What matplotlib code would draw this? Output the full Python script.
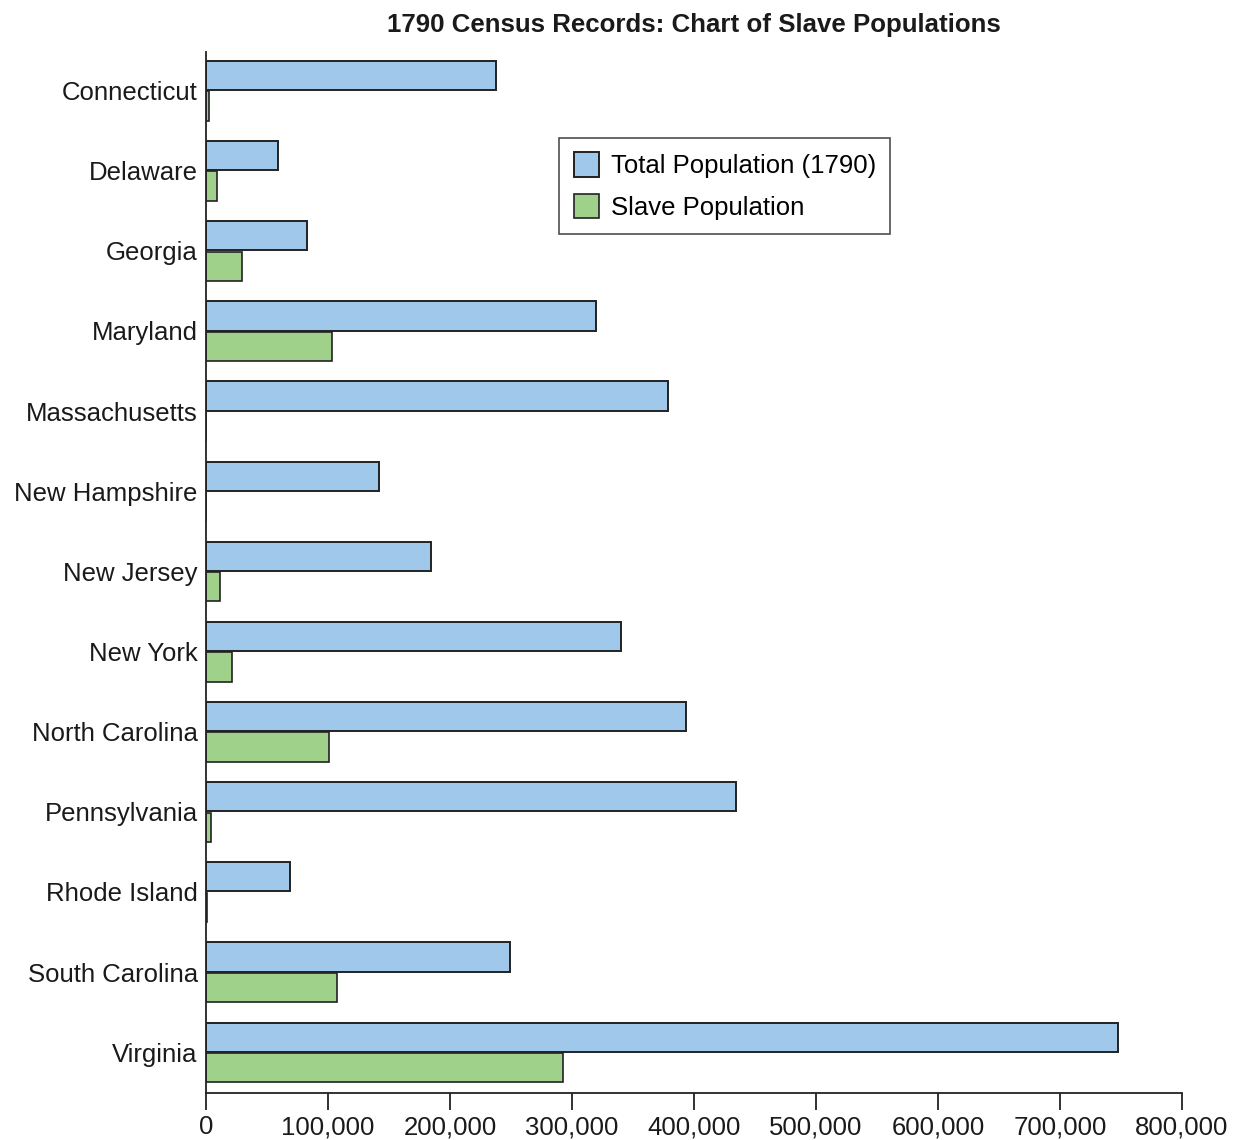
import matplotlib.pyplot as plt
import numpy as np
from matplotlib.ticker import FuncFormatter

plt.rcParams['font.family'] = ['Liberation Sans', 'DejaVu Sans']

states = ['Connecticut', 'Delaware', 'Georgia', 'Maryland', 'Massachusetts',
          'New Hampshire', 'New Jersey', 'New York', 'North Carolina',
          'Pennsylvania', 'Rhode Island', 'South Carolina', 'Virginia']
total_pop = [237946, 59094, 82548, 319728, 378787, 141885, 184139,
             340120, 393751, 434373, 68825, 249073, 747610]
slave_pop = [2764, 8887, 29264, 103036, 0, 158, 11423,
             21324, 100783, 3737, 948, 107094, 292627]

fig = plt.figure(figsize=(12.41, 11.40), dpi=100)
ax = fig.add_axes([0.166, 0.0412, 0.7865, 0.9128])

y = np.arange(len(states))
h = 0.365
ax.barh(y - h/2 - 0.005, total_pop, height=h, color='#a0c8ea', edgecolor='#222222',
        linewidth=1.4, label='Total Population (1790)')
ax.barh(y + h/2 + 0.01, slave_pop, height=h, color='#9fd18a', edgecolor='#222222',
        linewidth=1.2, label='Slave Population')

ax.set_ylim(12.51, -0.475)
ax.set_xlim(0, 800000)
ax.set_yticks(y)
ax.set_yticklabels(states, fontsize=18.5)
ax.tick_params(axis='y', length=0, pad=6)
ax.set_xticks(np.arange(0, 800001, 100000))
ax.xaxis.set_major_formatter(FuncFormatter(lambda v, p: f'{int(v):,}'))
ax.tick_params(axis='x', direction='out', length=12, width=1.3, labelsize=18.5, pad=4, colors='#222222')
for lab in ax.get_xticklabels() + ax.get_yticklabels():
    lab.set_color('#1a1a1a')

ax.spines['top'].set_visible(False)
ax.spines['right'].set_visible(False)
ax.spines['left'].set_linewidth(1.3)
ax.spines['bottom'].set_linewidth(1.3)
ax.spines['left'].set_color('#222222')
ax.spines['bottom'].set_color('#222222')

ax.set_title('1790 Census Records: Chart of Slave Populations', fontsize=18.6,
             fontweight='bold', pad=15, color='#1a1a1a')

leg = ax.legend(loc='upper left', bbox_to_anchor=(0.349, 0.93), fontsize=18.5,
                frameon=True, fancybox=False, edgecolor='#222222',
                handlelength=1.0, handleheight=1.1, handletextpad=0.45,
                borderpad=0.55, labelspacing=0.6)
leg.get_frame().set_linewidth(1.2)

plt.savefig('out.png', dpi=100)
